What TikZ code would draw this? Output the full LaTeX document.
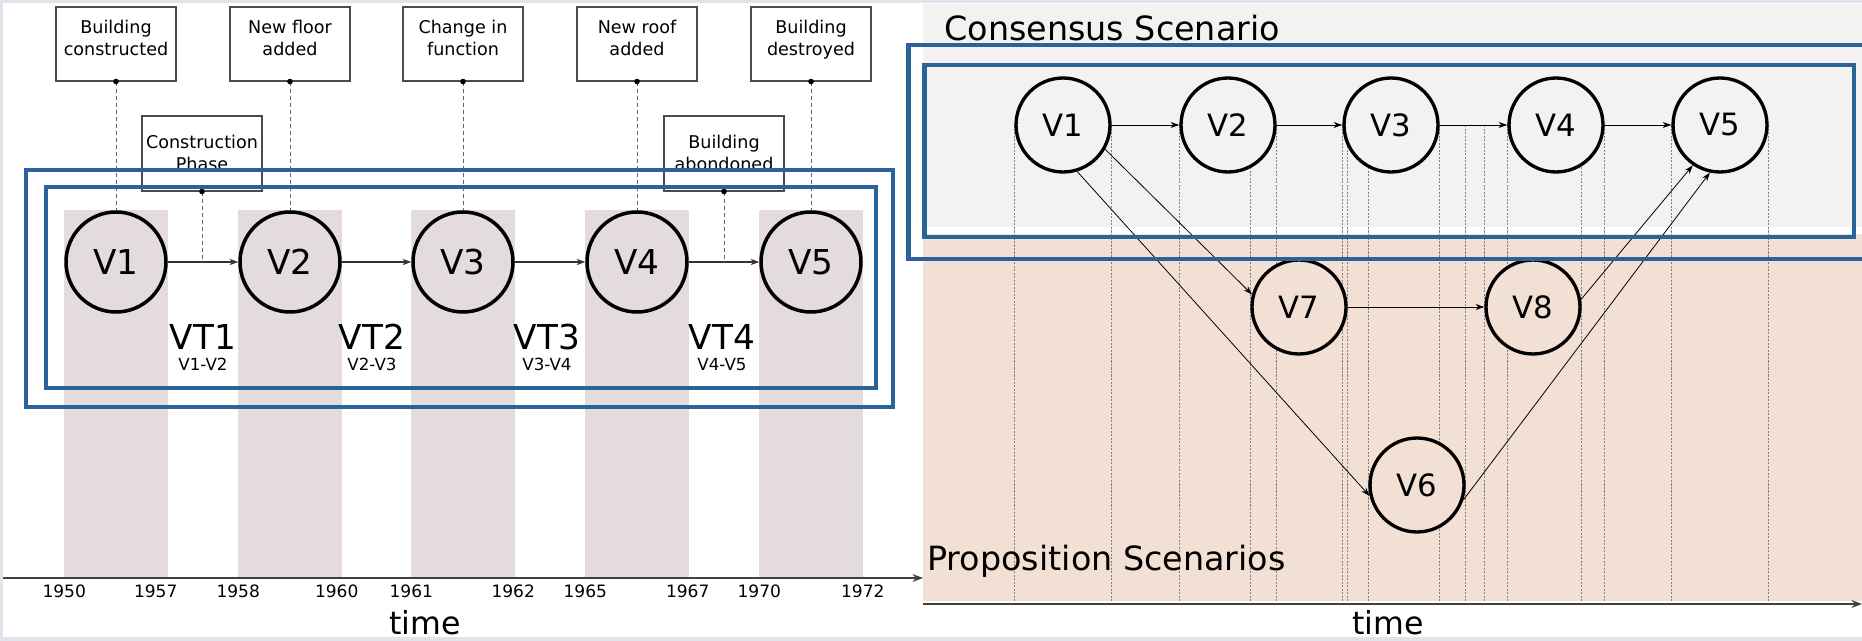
\documentclass[tikz,border=0pt]{standalone}
\usepackage{fontspec}
\setmainfont{DejaVu Sans}
\usetikzlibrary{arrows.meta}
\pgfdeclarelayer{back}
\pgfsetlayers{back,main}
\definecolor{framegray}{HTML}{E0E2EC}
\definecolor{phasefill}{HTML}{E3DBDC}
\definecolor{consfill}{HTML}{F3F2F0}
\definecolor{propfill}{HTML}{F2E0D5}
\definecolor{boxblue}{HTML}{2B629A}

\begin{document}
\begin{tikzpicture}[x=0.02cm, y=-0.02cm,
      every node/.style={align=center},
      version/.style={shape=circle, draw, line width=2pt, minimum size=2cm,
        inner sep=0, fill=phasefill, font=\fontsize{19.5}{22}\selectfont},
      scen/.style={shape=circle, draw, line width=1.9pt, minimum size=1.88cm,
        inner sep=0, font=\fontsize{17.5}{20}\selectfont},
      event/.style={shape=rectangle, draw=black!70, line width=0.6pt, fill=white,
        minimum width=2.4cm, inner sep=0, text height=0.98cm, text depth=0.5cm,
        font=\fontsize{10}{13}\selectfont},
      flow/.style={-{Stealth[length=5pt,width=3.6pt]}, line width=0.6pt, black!80},
      link/.style={-{Stealth[length=5pt,width=3.4pt]}, line width=0.45pt},
      tie/.style={dash pattern=on 2.5pt off 1.5pt, line width=0.5pt, black!60},
      guide/.style={dash pattern=on 1.2pt off 0.8pt, line width=0.4pt, black!50},
      timeaxis/.style={-{Stealth[length=6pt,width=4.5pt]}, line width=0.8pt, black!75},
      bluebox/.style={draw=boxblue, line width=2.6pt},
      vtlab/.style={inner sep=0, font=\fontsize{19.5}{22}\selectfont},
      vtsub/.style={inner sep=0, font=\fontsize{9.5}{11}\selectfont},
      yearlab/.style={inner sep=0, font=\fontsize{9.7}{11}\selectfont},
      timelab/.style={inner sep=0, font=\fontsize{18}{20}\selectfont},
      scentitle/.style={inner sep=0, font=\fontsize{19}{22}\selectfont}]
    \useasboundingbox (0,0) rectangle (1862,641);

    % left: versions on the time line
    \node[version] (L1) at (116,262) {V1};
    \node[version] (L2) at (290,262) {V2};
    \node[version] (L3) at (463,262) {V3};
    \node[version] (L4) at (637,262) {V4};
    \node[version] (L5) at (811,262) {V5};

    \node[event] (e1) at (116,44) {Building\\constructed};
    \node[event] (e2) at (290,44) {New floor\\added};
    \node[event] (e3) at (463,44) {Change in\\function};
    \node[event] (e4) at (637,44) {New roof\\added};
    \node[event] (e5) at (811,44) {Building\\destroyed};
    \node[event, text height=1.1cm, text depth=0.4cm] (p1) at (202,153.5) {Construction\\Phase};
    \node[event, text height=1.1cm, text depth=0.4cm] (p2) at (724,153.5) {Building\\abondoned};

    \foreach \a/\b in {L1/L2,L2/L3,L3/L4,L4/L5}
      \draw[flow] (\a) -- (\b);
    \foreach \n in {1,...,5} {
      \draw[tie] (e\n.south) -- (L\n.north);
      \fill (e\n.south) circle[radius=1.6pt];
    }
    \foreach \n in {1,2} {
      \draw[tie] (p\n.south) -- (p\n.south |- L1);
      \fill (p\n.south) circle[radius=1.6pt];
    }

    \node[vtlab, anchor=base] (vt1) at (203,350) {VT1};
    \node[vtlab, anchor=base] (vt2) at (372,350) {VT2};
    \node[vtlab, anchor=base] (vt3) at (547,350) {VT3};
    \node[vtlab, anchor=base] (vt4) at (722,350) {VT4};
    \node[vtsub, anchor=base] (vs1) at (203,371) {V1-V2};
    \node[vtsub, anchor=base] (vs2) at (372,371) {V2-V3};
    \node[vtsub, anchor=base] (vs3) at (547,371) {V3-V4};
    \node[vtsub, anchor=base] (vs4) at (722,371) {V4-V5};

    \coordinate (axL0) at (3,578);
    \coordinate (axL1) at (923,578);
    \coordinate (yrbase) at (0,597);
    \draw[timeaxis] (axL0) -- (axL1);
    \foreach \n/\from/\to/\dx in {1/1950/1957/-0.24cm, 2/1958/1960/-0.1cm,
        3/1961/1962/-0.03cm, 4/1965/1967/-0.02cm, 5/1970/1972/0cm} {
      \node[yearlab, anchor=base] (ya\n) at (L\n.west |- yrbase) {\from};
      \node[yearlab, anchor=base, xshift=\dx] (yb\n) at (L\n.east |- yrbase) {\to};
    }
    \node[timelab, anchor=base] (timeL) at (425,634) {time};

    % right: consensus and proposition scenarios
    \node[scen, fill=consfill] (R1) at (1063,125) {V1};
    \node[scen, fill=consfill] (R2) at (1228,125) {V2};
    \node[scen, fill=consfill] (R3) at (1391,125) {V3};
    \node[scen, fill=consfill] (R4) at (1556,125) {V4};
    \node[scen, fill=consfill] (R5) at (1720,125) {V5};
    \node[scen, fill=propfill] (R7) at (1299,307) {V7};
    \node[scen, fill=propfill] (R8) at (1533,307) {V8};
    \node[scen, fill=propfill] (R6) at (1417,485) {V6};

    \foreach \a/\b in {R1/R2,R2/R3,R3/R4,R4/R5,R7/R8}
      \draw[link] (\a) -- (\b);
    \draw[link] (R1.-30) -- (R7.165);
    \draw[link] (R1.-73) -- (R6.193);
    \draw[link] (R8.9) -- (R5.236);
    \draw[link] (R6.-18) -- (R5.258);

    \node[scentitle, anchor=base west] (cons) at (944,41) {Consensus Scenario};
    \node[scentitle, anchor=base west] (prop) at (927,570) {Proposition Scenarios};

    \coordinate (propbot) at (923,601);
    \coordinate (axR0) at (923,604);
    \coordinate (axR1) at (1862,604);
    \draw[timeaxis] (axR0) -- (axR1);
    \node[timelab, anchor=base] (timeR) at (1388,634) {time};

    \draw[bluebox] (26,170) rectangle (893,407);
    \draw[bluebox] (46,187) rectangle (876,388);
    \draw[bluebox] (908.5,45) rectangle (1900,259);
    \draw[bluebox] (924.5,65) rectangle (1854,237);

    \begin{pgfonlayer}{back}
      \fill[framegray] (0,0) rectangle (1862,641);
      \fill[white] (3,3) rectangle (1862,637);
      \fill[consfill] (923,4) rectangle (1862,227);
      \fill[propfill] (923,234) rectangle (1862,601);
      \foreach \n in {1,...,5}
        \fill[phasefill] (L\n.west |- L\n.north) rectangle (L\n.east |- axL0);
      \foreach \n in {1,...,8}
        \draw[guide] (R\n.west |- R1) -- (R\n.west |- propbot)
                     (R\n.east |- R1) -- (R\n.east |- propbot);
    \end{pgfonlayer}
\end{tikzpicture}
\end{document}
